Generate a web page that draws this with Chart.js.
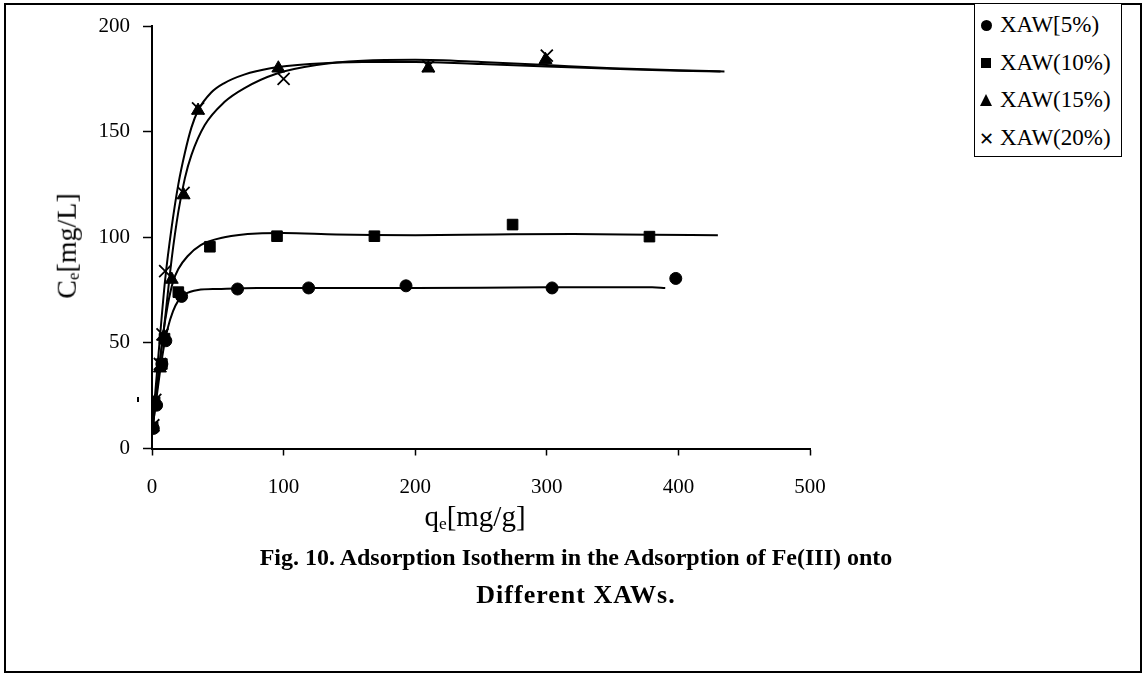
<!DOCTYPE html>
<html>
<head>
<meta charset="utf-8">
<script src="https://cdn.jsdelivr.net/npm/chart.js@4.4.0/dist/chart.umd.min.js"></script>
<style>
  html, body { margin: 0; padding: 0; background: #fff; }
  body { width: 1146px; height: 677px; position: relative; overflow: hidden;
         font-family: "Liberation Serif", "Times New Roman", serif; color: #000; }
  #frame { position: absolute; left: 4px; top: 3px; width: 1138px; height: 670px;
           border: 2px solid #000; box-sizing: border-box; }
  #chartBox { position: absolute; left: 0; top: 0; }
  .sub { font-size: 0.6em; vertical-align: -0.15em; }
  #yTitle { position: absolute; left: 67px; top: 246px; font-size: 28px; white-space: nowrap;
            transform: translate(-50%, -50%) rotate(-90deg); }
  #xTitle { position: absolute; left: 475px; top: 517px; font-size: 29px; white-space: nowrap;
            transform: translate(-50%, -50%); }
  #caption { position: absolute; left: 0; width: 1152px; top: 538px; text-align: center;
             font-weight: bold; font-size: 24px; line-height: 38px; }
  #caption .l2 { font-size: 26px; letter-spacing: 1px; }
  #tick { position: absolute; left: 137px; top: 397px; width: 1.5px; height: 5px; background: #000; }
  #legend { position: absolute; left: 974px; top: 3px; width: 148px; height: 154px;
            border: 1.5px solid #000; box-sizing: border-box; background: #fff; }
  .item { position: absolute; left: 0; height: 26px; font-size: 23px; line-height: 26px; white-space: nowrap; }
  .item span.txt { position: absolute; left: 25px; top: 0; }
  .mk { position: absolute; background: #000; }
</style>
</head>
<body>
<div id="frame"></div>
<canvas id="chartBox" width="1146" height="677"></canvas>
<div id="yTitle">C<span class="sub">e</span>[mg/L]</div>
<div id="xTitle">q<span class="sub">e</span>[mg/g]</div>
<div id="caption">Fig. 10. Adsorption Isotherm in the Adsorption of Fe(III) onto<br><span class="l2">Different XAWs.</span></div>
<div id="tick"></div>
<div id="legend"></div>
<script>
// axis ticks
const xTicks = [0, 100, 200, 300, 400, 500];
const yTicks = [0, 50, 100, 150, 200];

const seriesNames = ['XAW[5%)', 'XAW(10%)', 'XAW(15%)', 'XAW(20%)'];

// measured points (qe, Ce)
const xaw5X = [1, 3.5, 7.5, 10.5, 22.5, 65, 119, 193, 304, 398];
const xaw5Y = [9.5, 20.5, 40, 51, 72, 75.5, 76, 77, 76, 80.5];
const xaw10X = [0.5, 2, 7.5, 9.5, 20, 44, 95, 169, 274, 378];
const xaw10Y = [10, 22, 40, 52, 74, 95.5, 100.5, 100.5, 106, 100.3];
const xaw15X = [0.5, 2, 6, 9, 15, 24, 35, 96, 210, 299];
const xaw15Y = [10, 22, 38, 53, 80, 120, 160, 180, 180, 184];
const xaw20X = [1, 2.5, 6, 8, 10, 24, 35, 100, 210, 300];
const xaw20Y = [11, 23, 40, 54, 84, 121, 161, 175, 181, 186];

// trend lines
const fit5X = [0, 3, 6, 9, 12, 16, 20, 25, 35, 50, 80, 120, 200, 300, 380, 390];
const fit5Y = [8, 22, 36, 48, 57, 65, 70, 73, 75, 75.5, 76, 76, 76, 76.3, 76.3, 76];
const fit10X = [0, 4, 8, 12, 16, 20, 27, 37, 55, 80, 100, 140, 200, 260, 320, 380, 430];
const fit10Y = [8, 30, 52, 68, 79, 85, 91, 96.3, 100, 101.8, 102, 101.3, 101, 101.3, 101.5, 101.2, 101];
const fit15X = [0, 5, 10, 15, 20, 25, 30, 35, 45, 55, 70, 90, 120, 160, 200, 250, 300, 350, 400, 432];
const fit15Y = [8, 45, 80, 105, 125, 140, 152, 160, 168.5, 173, 177, 180, 182, 183, 183, 182, 180.8, 179.8, 178.8, 178.5];
const fit20X = [0, 5, 10, 15, 20, 25, 30, 40, 55, 70, 95, 125, 160, 200, 250, 300, 350, 400, 435];
const fit20Y = [6, 35, 62, 90, 112, 128, 139, 153, 164, 170.5, 177.5, 181.5, 183.5, 184, 183, 181.5, 180, 179, 178.5];

const pts = (xs, ys) => xs.map((x, i) => ({ x: x, y: ys[i] }));

const markerStyles = [
    { pointStyle: 'circle', pointRadius: 6 },
    { pointStyle: 'rect', pointRadius: 7.5 },
    { pointStyle: 'triangle', pointRadius: 7.5 },
    { pointStyle: 'crossRot', pointRadius: 8.5 }
];
const pointSets = [pts(xaw5X, xaw5Y), pts(xaw10X, xaw10Y), pts(xaw15X, xaw15Y), pts(xaw20X, xaw20Y)];
const fitSets = [pts(fit5X, fit5Y), pts(fit10X, fit10Y), pts(fit15X, fit15Y), pts(fit20X, fit20Y)];

const datasets = [];
fitSets.forEach((d, i) => {
    datasets.push({
        label: seriesNames[i] + ' fit',
        data: d,
        showLine: true,
        borderColor: '#000',
        borderWidth: 2,
        pointRadius: 0,
        cubicInterpolationMode: 'monotone'
    });
});
pointSets.forEach((d, i) => {
    datasets.push({
        label: seriesNames[i],
        data: d,
        showLine: false,
        backgroundColor: '#000',
        borderColor: '#000',
        borderWidth: i === 3 ? 1.8 : 1,
        pointStyle: markerStyles[i].pointStyle,
        pointRadius: markerStyles[i].pointRadius
    });
});

const tickFont = { family: 'Liberation Serif', size: 21 };

new Chart(document.getElementById('chartBox'), {
    type: 'scatter',
    data: { datasets: datasets },
    options: {
        responsive: false,
        animation: false,
        layout: { padding: { left: 0, top: 26, right: 336, bottom: 0 } },
        plugins: { legend: { display: false }, tooltip: { enabled: false } },
        scales: {
            x: {
                type: 'linear', min: 0, max: 500,
                afterBuildTicks: s => { s.ticks = xTicks.map(v => ({ value: v })); },
                afterFit: s => { s.height = 228.5; },
                grid: { drawOnChartArea: false, color: '#000', tickLength: 7, tickWidth: 1.5 },
                border: { display: true, color: '#000', width: 2 },
                ticks: { color: '#000', font: tickFont, padding: 19, maxRotation: 0 }
            },
            y: {
                type: 'linear', min: 0, max: 200,
                afterBuildTicks: s => { s.ticks = yTicks.map(v => ({ value: v })); },
                afterFit: s => { s.width = 152; },
                grid: { drawOnChartArea: false, color: '#000', tickLength: 9, tickWidth: 1.5 },
                border: { display: true, color: '#000', width: 2 },
                ticks: { color: '#000', font: tickFont, padding: 13 }
            }
        }
    }
});

// legend box
const legend = document.getElementById('legend');
const rowY = [8, 46, 83, 121];
seriesNames.forEach((name, i) => {
    const row = document.createElement('div');
    row.className = 'item';
    row.style.top = rowY[i] + 'px';
    row.style.left = '0px';
    let mk = '';
    if (i === 0) mk = '<div class="mk" style="left:6px;top:8px;width:11px;height:11px;border-radius:50%"></div>';
    if (i === 1) mk = '<div class="mk" style="left:6px;top:8px;width:10px;height:10px"></div>';
    if (i === 2) mk = '<div style="position:absolute;left:5px;top:7px;width:0;height:0;border-left:6.5px solid transparent;border-right:6.5px solid transparent;border-bottom:12px solid #000"></div>';
    if (i === 3) mk = '<div style="position:absolute;left:4px;top:1px;font-family:DejaVu Sans;font-size:18px">\u2715</div>';
    row.innerHTML = mk + '<span class="txt">' + name + '</span>';
    legend.appendChild(row);
});
</script>
</body>
</html>
